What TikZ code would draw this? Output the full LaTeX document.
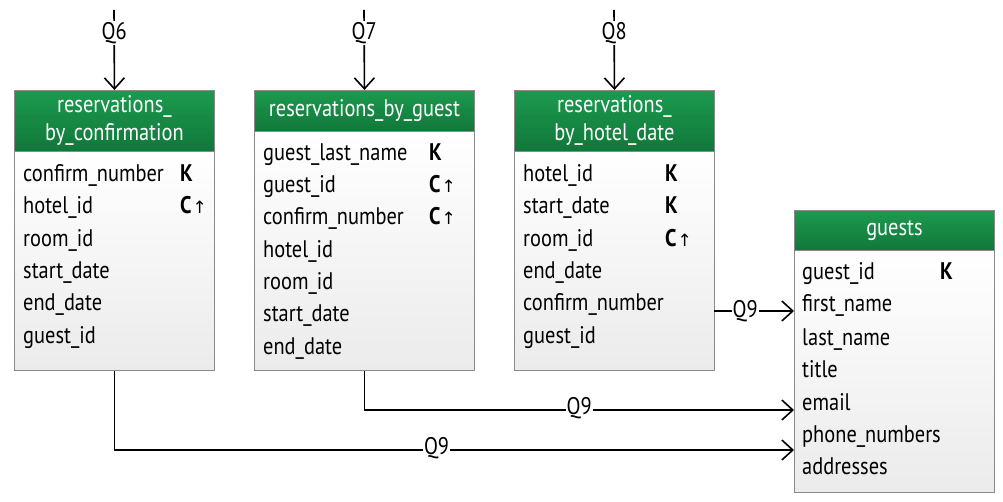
\documentclass[tikz,border=0pt]{standalone}
\usepackage{fontspec}
\setmainfont{PT Sans}[FakeStretch=0.85]
\newfontfamily\symf{DejaVu Sans}
\usetikzlibrary{arrows.meta}
\definecolor{hdtop}{HTML}{1C9A4F}
\definecolor{hdbot}{HTML}{11773A}
\definecolor{bdbot}{HTML}{EBEBEB}
\definecolor{bord}{HTML}{8A8A8A}
\tikzset{
  hdr/.style={draw=bord, line width=0.9pt, top color=hdtop, bottom color=hdbot, text=white,
    anchor=north west, inner sep=0pt, align=center, font=\fontsize{24}{28}\selectfont},
  bdy/.style={draw=bord, line width=0.9pt, top color=white, bottom color=bdbot, anchor=north west, inner sep=0pt},
  fld/.style={anchor=base west, inner sep=0pt, font=\fontsize{24}{28}\selectfont},
  kfld/.style={anchor=base west, inner sep=0pt, font=\fontsize{24}{28}\selectfont\bfseries},
  conn/.style={line width=1.6pt, -{Straight Barb[length=11pt,width=20pt,line width=1.6pt]}},
  qlab/.style={fill=white, inner sep=1pt, font=\fontsize{24}{26}\selectfont}
}
\newcommand{\Cup}{\textbf{C}\kern1pt{\symf\fontsize{17}{18}\selectfont ↑}}
\begin{document}
\begin{tikzpicture}[x=1pt,y=-1pt]
\useasboundingbox (0,0) rectangle (1003,502);
% table 1
\node[bdy, minimum width=200pt, minimum height=219pt] (t1b) at (14,151) {};
\node[hdr, minimum width=200pt, minimum height=61pt] (t1h) at (14,90) {reservations\_\\by\_confirmation};
\node[fld] (t1r1) at (23,182) {confirm\_number};
\node[kfld] (t1k1) at (180,182) {K};
\node[fld] (t1r2) at (23,214) {hotel\_id};
\node[fld] (t1k2) at (180,214) {\Cup};
\node[fld] (t1r3) at (23,247) {room\_id};
\node[fld] (t1r4) at (23,279) {start\_date};
\node[fld] (t1r5) at (23,311) {end\_date};
\node[fld] (t1r6) at (23,343) {guest\_id};
% table 2
\node[bdy, minimum width=220pt, minimum height=239pt] (t2b) at (254,131) {};
\node[hdr, minimum width=220pt, minimum height=41pt] (t2h) at (254,90) {reservations\_by\_guest};
\node[fld] (t2r1) at (263,161) {guest\_last\_name};
\node[kfld] (t2k1) at (429,161) {K};
\node[fld] (t2r2) at (263,193) {guest\_id};
\node[fld] (t2k2) at (429,193) {\Cup};
\node[fld] (t2r3) at (263,225) {confirm\_number};
\node[fld] (t2k3) at (429,225) {\Cup};
\node[fld] (t2r4) at (263,258) {hotel\_id};
\node[fld] (t2r5) at (263,290) {room\_id};
\node[fld] (t2r6) at (263,322) {start\_date};
\node[fld] (t2r7) at (263,354) {end\_date};
% table 3
\node[bdy, minimum width=200pt, minimum height=219pt] (t3b) at (514,151) {};
\node[hdr, minimum width=200pt, minimum height=61pt] (t3h) at (514,90) {reservations\_\\by\_hotel\_date};
\node[fld] (t3r1) at (523,182) {hotel\_id};
\node[kfld] (t3k1) at (665,182) {K};
\node[fld] (t3r2) at (523,214) {start\_date};
\node[kfld] (t3k2) at (665,214) {K};
\node[fld] (t3r3) at (523,247) {room\_id};
\node[fld] (t3k3) at (665,247) {\Cup};
\node[fld] (t3r4) at (523,279) {end\_date};
\node[fld] (t3r5) at (523,311) {confirm\_number};
\node[fld] (t3r6) at (523,343) {guest\_id};
% guests
\node[bdy, minimum width=200pt, minimum height=242pt] (t4b) at (794,250) {};
\node[hdr, minimum width=200pt, minimum height=40pt] (t4h) at (794,210) {guests};
\node[fld] (g1) at (802,280) {guest\_id};
\node[kfld] (gk1) at (940,280) {K};
\node[fld] (g2) at (802,312) {first\_name};
\node[fld] (g3) at (802,345) {last\_name};
\node[fld] (g4) at (802,377) {title};
\node[fld] (g5) at (802,410) {email};
\node[fld] (g6) at (802,442) {phone\_numbers};
\node[fld] (g7) at (802,474) {addresses};
% query arrows
\coordinate (q6) at (114,10);
\coordinate (q7) at (364,10);
\coordinate (q8) at (614,10);
\draw[conn] (q6) -- node[qlab, pos=0.29] {Q6} (t1h.north);
\draw[conn] (q7) -- node[qlab, pos=0.29] {Q7} (t2h.north);
\draw[conn] (q8) -- node[qlab, pos=0.29] {Q8} (t3h.north);
% Q9 connectors
\coordinate (e1) at (714,311);
\coordinate (a1) at (794,311);
\draw[conn] (e1) -- node[qlab, pos=0.39] {Q9} (a1);
\coordinate (a2) at (794,410);
\coordinate (a3) at (794,450);
\draw[conn] (t2b.south) |- node[qlab, pos=0.75, yshift=2pt] {Q9} (a2);
\draw[conn] (t1b.south) |- node[qlab, pos=0.737, yshift=2pt] {Q9} (a3);
\end{tikzpicture}
\end{document}
